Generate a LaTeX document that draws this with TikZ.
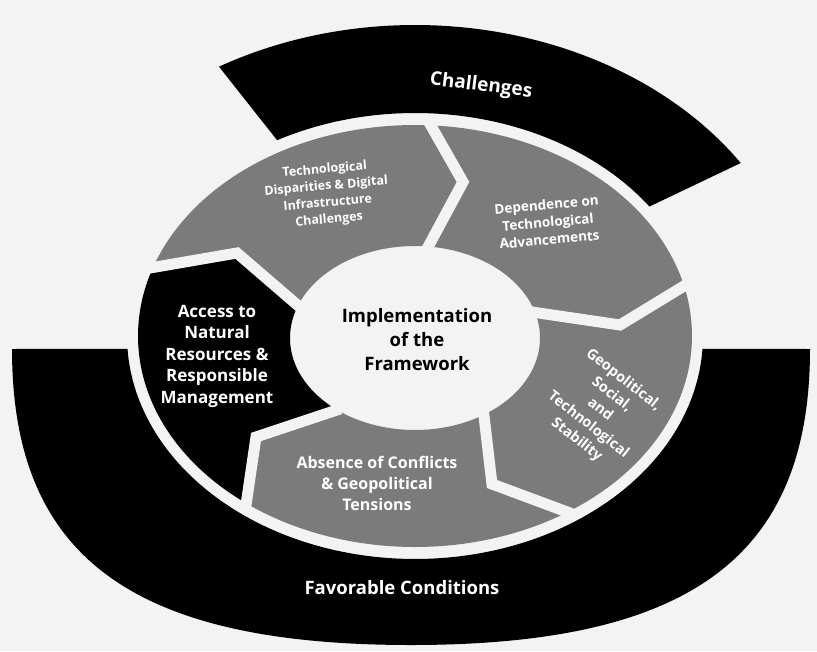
\documentclass[tikz,border=0pt]{standalone}
\usepackage{fontspec}
\setmainfont{Open Sans}
\definecolor{bg}{HTML}{F3F3F3}
\definecolor{seg}{HTML}{7B7B7B}
\definecolor{band}{HTML}{000000}
\begin{document}
\begin{tikzpicture}[x=1pt,y=-1pt,
  seglabel/.style={text=white,font=\bfseries,align=center,inner sep=0pt},
  bandlabel/.style={text=white,font=\bfseries,inner sep=0pt},
  gapline/.style={draw=bg,line width=11pt,line join=miter,line cap=butt,
                  shorten <=-10pt,shorten >=-10pt},
  arcplot/.style={samples=60,variable=\t,smooth}]
\useasboundingbox (0,0) rectangle (817,651);
\fill[bg] (0,0) rectangle (817,651);

% chevron boundaries between the cycle steps: outer point, tip, inner point
\coordinate (b1o) at (430,124); \coordinate (b1t) at (463,182); \coordinate (b1i) at (428,247);
\coordinate (b2o) at (684,286); \coordinate (b2t) at (620,325); \coordinate (b2i) at (532,312);
\coordinate (b3o) at (570,513); \coordinate (b3t) at (492,484); \coordinate (b3i) at (484,416);
\coordinate (b4o) at (246,505); \coordinate (b4t) at (256,437); \coordinate (b4i) at (331,412);
\coordinate (b5o) at (150,268); \coordinate (b5t) at (237,253); \coordinate (b5i) at (295,303);

% cycle steps (outer ellipse 277x211, inner ellipse 125x92)
\fill[seg] plot[arcplot,domain=161.4:87] ({415+277*cos(\t)},{336-211*sin(\t)})
  -- (b1t) -- plot[arcplot,domain=84:158.4] ({415+125*cos(\t)},{338-92*sin(\t)})
  -- (b5t) -- cycle;
\fill[seg] plot[arcplot,domain=87:13.7] ({415+277*cos(\t)},{336-211*sin(\t)})
  -- (b2t) -- plot[arcplot,domain=16.8:84] ({415+125*cos(\t)},{338-92*sin(\t)})
  -- (b1t) -- cycle;
\fill[seg] plot[arcplot,domain=13.7:-56.3] ({415+277*cos(\t)},{336-211*sin(\t)})
  -- (b3t) -- plot[arcplot,domain=-57:16.8] ({415+125*cos(\t)},{338-92*sin(\t)})
  -- (b2t) -- cycle;
\fill[seg] plot[arcplot,domain=-56.3:-127.3] ({415+277*cos(\t)},{336-211*sin(\t)})
  -- (b4t) -- plot[arcplot,domain=-129.9:-57] ({415+125*cos(\t)},{338-92*sin(\t)})
  -- (b3t) -- cycle;
\fill[band] plot[arcplot,domain=-127.3:-198.6] ({415+277*cos(\t)},{336-211*sin(\t)})
  -- (b5t) -- plot[arcplot,domain=-201.6:-129.9] ({415+125*cos(\t)},{338-92*sin(\t)})
  -- (b4t) -- cycle;

% gaps between the steps
\foreach \b in {1,...,5}
  \draw[gapline] (b\b o) -- (b\b t) -- (b\b i);

% upper band
\fill[band] plot[arcplot,domain=120:33.8] ({415+392*cos(\t)},{336-311*sin(\t)})
  -- plot[arcplot,domain=35.5:118.6] ({415+288*cos(\t)},{336-223*sin(\t)}) -- cycle;

% lower band
\fill[band] (12,349) .. controls (12,556) and (131,645) .. (411,645)
  .. controls (691,645) and (810,556) .. (810,349)
  -- plot[arcplot,domain=-3.3:-176.7] ({415+288*cos(\t)},{336-223*sin(\t)}) -- cycle;

% labels
\node[bandlabel,rotate=-7,font=\bfseries\fontsize{19}{22}\selectfont] (challenges) at (481,86) {Challenges};
\node[bandlabel,font=\bfseries\fontsize{18.5}{22}\selectfont] (favorable) at (402,588) {Favorable Conditions};
\node[align=center,inner sep=0pt,font=\bfseries\fontsize{18.5}{24}\selectfont] (impl) at (417,340)
  {Implementation\\of the\\Framework};
\node[seglabel,rotate=5,font=\bfseries\fontsize{12.5}{16.8}\selectfont] (tech) at (327,195)
  {Technological\\Disparities \& Digital\\Infrastructure\\Challenges};
\node[seglabel,rotate=5,font=\bfseries\fontsize{13.5}{17.5}\selectfont] (dep) at (548,222)
  {Dependence on\\Technological\\Advancements};
\node[seglabel,rotate=-38,font=\bfseries\fontsize{14.5}{19}\selectfont] (geo) at (600,410)
  {Geopolitical,\\Social,\\and\\Technological\\Stability};
\node[seglabel,font=\bfseries\fontsize{16}{21}\selectfont] (abs) at (377,483)
  {Absence of Conflicts\\\& Geopolitical\\Tensions};
\node[seglabel,font=\bfseries\fontsize{17}{21.5}\selectfont] (access) at (217,356)
  {Access to\\Natural\\Resources \&\\Responsible\\Management};
\end{tikzpicture}
\end{document}
